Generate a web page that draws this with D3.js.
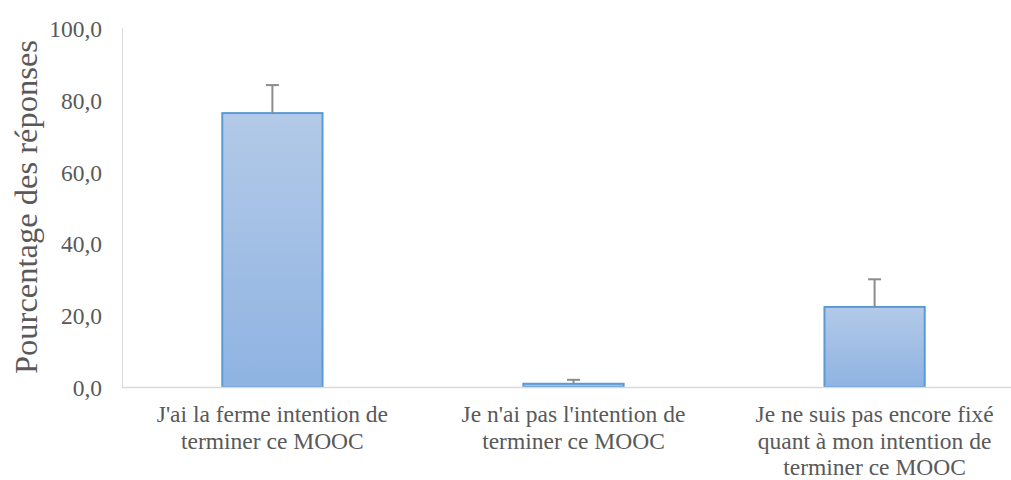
<!DOCTYPE html>
<html><head><meta charset="utf-8">
<script src="https://cdn.jsdelivr.net/npm/d3@7"></script>
</head><body style="margin:0">
<svg id="c" width="1011" height="480"></svg>
<script>
const categories = [
  ["J'ai la ferme intention de", "terminer ce MOOC"],
  ["Je n'ai pas l'intention de", "terminer ce MOOC"],
  ["Je ne suis pas encore fixé", "quant à mon intention de", "terminer ce MOOC"]
];
const values = [76.3, 0.9, 22.3];
const errors = [7.8, 1.1, 7.7];
const yTicks = [0, 20, 40, 60, 80, 100];
const yTitle = "Pourcentage des réponses";

const svg = d3.select("#c");
const font = "Liberation Serif";
const textColor = "#595959";
const m = {left: 122, top: 28, bottom: 387, right: 1025};

const x = d3.scaleBand().domain(d3.range(values.length)).range([m.left, m.right]).paddingInner(0.667).paddingOuter(0.333);
const y = d3.scaleLinear().domain([0, 100]).range([m.bottom, m.top]);

const defs = svg.append("defs");
const g = defs.append("linearGradient").attr("id", "bg").attr("x1", 0).attr("y1", 0).attr("x2", 0).attr("y2", 1);
g.append("stop").attr("offset", "0%").attr("stop-color", "#b3cae8");
g.append("stop").attr("offset", "100%").attr("stop-color", "#8fb3e2");

svg.append("line").attr("x1", m.left + 0.5).attr("x2", m.left + 0.5).attr("y1", m.top).attr("y2", m.bottom)
  .attr("stroke", "#d9d9d9").attr("stroke-width", 1);

// y tick labels
const yAxis = d3.axisLeft(y).tickValues(yTicks).tickSize(0).tickPadding(20)
  .tickFormat(d => d3.format(".1f")(d).replace(".", ","));
const ya = svg.append("g").attr("transform", `translate(${m.left},0)`).call(yAxis)
  .attr("font-family", font).attr("font-size", 23.5);
ya.select(".domain").remove();
ya.selectAll("text").style("font-family", font).attr("font-size", 23.5).attr("fill", textColor).attr("dy", "0.36em");

// bars
svg.selectAll("rect.bar").data(values).join("rect").attr("class", "bar")
  .attr("x", (d, i) => x(i)).attr("width", x.bandwidth())
  .attr("y", d => y(d)).attr("height", d => y(0) - y(d))
  .attr("fill", "url(#bg)").attr("stroke", "#5b9bd5").attr("stroke-width", 2);

svg.append("line").attr("x1", m.left).attr("x2", m.right).attr("y1", y(0) + 0.5).attr("y2", y(0) + 0.5)
  .attr("stroke", "#d9d9d9").attr("stroke-width", 1.5);

// error bars
const eb = svg.selectAll("g.err").data(values).join("g").attr("class", "err");
eb.append("line").attr("x1", (d, i) => x(i) + x.bandwidth() / 2).attr("x2", (d, i) => x(i) + x.bandwidth() / 2)
  .attr("y1", d => y(d)).attr("y2", (d, i) => y(d + errors[i])).attr("stroke", "#8c8c8c").attr("stroke-width", 2);
eb.append("line").attr("x1", (d, i) => x(i) + x.bandwidth() / 2 - 6.5).attr("x2", (d, i) => x(i) + x.bandwidth() / 2 + 6.5)
  .attr("y1", (d, i) => y(d + errors[i])).attr("y2", (d, i) => y(d + errors[i])).attr("stroke", "#8c8c8c").attr("stroke-width", 2);

// category labels
const cl = svg.selectAll("text.cat").data(categories).join("text").attr("class", "cat")
  .attr("text-anchor", "middle").style("font-family", font).attr("font-size", 23.5).attr("fill", textColor);
cl.each(function(lines, i) {
  const t = d3.select(this);
  lines.forEach((l, j) => t.append("tspan").attr("x", x(i) + x.bandwidth() / 2).attr("y", 422 + j * 26.5).text(l));
});

// y title
svg.append("text").attr("transform", `translate(37,207) rotate(-90)`)
  .attr("text-anchor", "middle").style("font-family", font).attr("font-size", 32.5).attr("fill", textColor).text(yTitle);
</script>
</body></html>
